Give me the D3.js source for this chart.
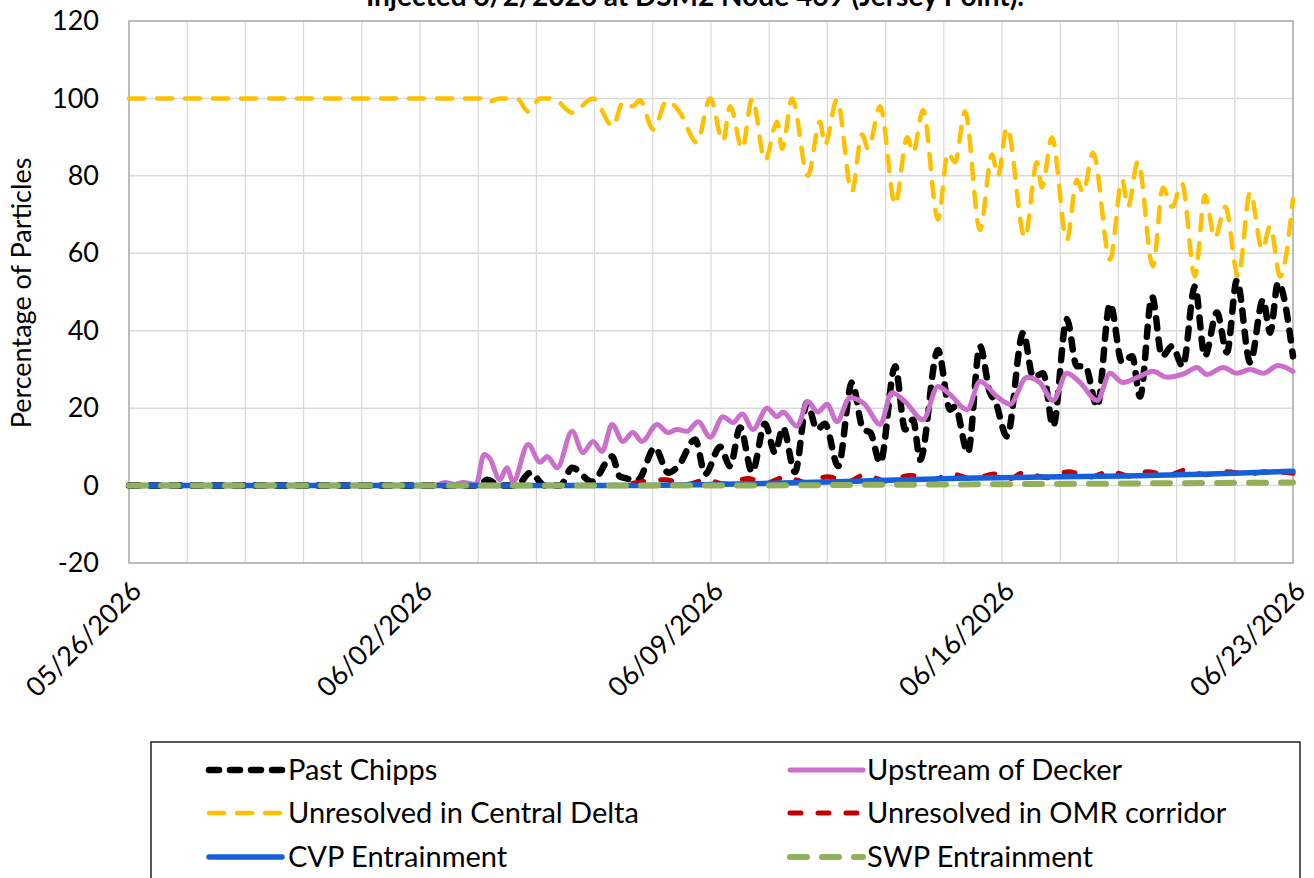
<!DOCTYPE html>
<html>
<head>
<meta charset="utf-8">
<script src="https://cdn.jsdelivr.net/npm/d3@7"></script>
<style>
  html, body { margin: 0; padding: 0; background: #ffffff; }
  svg { display: block; }
  text { font-family: Lato, "Open Sans", sans-serif; fill: #000; }
</style>
</head>
<body>
<svg id="chart" width="1314" height="878"></svg>
<script>
// ---------------- DATA ----------------
const titleText = "Injected 6/2/2026 at DSM2 Node 469 (Jersey Point).";
const yLabel = "Percentage of Particles";
const xTickDays = [0, 7, 14, 21, 28];
const xTickLabels = ["05/26/2026", "06/02/2026", "06/09/2026", "06/16/2026", "06/23/2026"];
const yTicks = [-20, 0, 20, 40, 60, 80, 100, 120];
const yTickLabels = ["-20", "0", "20", "40", "60", "80", "100", "120"];

// days since 05/26/2026 00:00 and percentage of particles
const chippsDay = [0, 8.44, 8.61, 8.92, 9.33, 9.65, 10.01, 10.37, 10.66, 11.14, 11.62, 11.81, 12.24, 12.65, 12.97, 13.21, 13.62, 13.86, 14.22, 14.46, 14.70, 14.99, 15.30, 15.54, 15.73, 16.02, 16.31, 16.55, 16.74, 17.06, 17.39, 17.66, 17.83, 18.07, 18.43, 18.67, 18.86, 19.03, 19.46, 19.75, 19.87, 20.18, 20.47, 20.71, 20.83, 21.12, 21.51, 21.75, 21.99, 22.23, 22.56, 22.80, 23.00, 23.29, 23.60, 23.89, 24.13, 24.32, 24.61, 24.85, 25.09, 25.35, 25.64, 25.88, 26.17, 26.41, 26.65, 26.97, 27.28, 27.45, 27.64, 28.00];
const chippsPct = [0, 0, 1.5, 0, 0, 3.3, 0, 0, 4.6, 1, 7.5, 2.3, 1.5, 9.8, 3.3, 5, 11.9, 3, 10, 5, 15, 3.5, 16, 8.5, 15, 3.5, 21.4, 14.5, 16, 5, 26.6, 14.5, 13.7, 5.9, 30.8, 14.5, 17, 6.7, 35, 19.6, 20.4, 8.5, 36, 24, 22, 12.7, 39.5, 28, 29, 15.3, 43, 30.8, 30.8, 20.4, 47, 31.8, 33.4, 23, 48.8, 33.4, 36, 30.8, 51.4, 33.4, 44.7, 34.4, 53, 31.8, 48, 39.5, 52.4, 33.4];

const deckerDay = [0, 7.36, 7.60, 7.84, 8.03, 8.35, 8.54, 8.68, 8.92, 9.09, 9.24, 9.60, 9.89, 10.06, 10.30, 10.66, 10.92, 11.16, 11.38, 11.62, 11.88, 12.12, 12.34, 12.70, 12.97, 13.18, 13.42, 13.69, 13.98, 14.29, 14.53, 14.75, 15.01, 15.35, 15.59, 15.73, 16.07, 16.33, 16.57, 16.79, 17.03, 17.34, 17.70, 18.07, 18.35, 18.67, 19.10, 19.46, 19.75, 20.16, 20.47, 20.88, 21.19, 21.60, 21.91, 22.23, 22.56, 22.88, 23.29, 23.60, 23.91, 24.27, 24.63, 24.97, 25.40, 25.69, 25.93, 26.32, 26.65, 26.97, 27.28, 27.64, 28.00];
const deckerPct = [0, 0, 0.8, 0.3, 0.8, 0.3, 8, 7, 1.5, 4.6, 1, 10.6, 6, 7.5, 4.6, 14, 8.5, 11.4, 8.8, 15.8, 11.4, 13.7, 11.4, 15.8, 13.7, 14.5, 14, 16.5, 12.5, 17.8, 16.3, 18.5, 14.5, 20, 17.8, 19, 15.3, 21.7, 19, 21, 16.5, 22.7, 21, 15.8, 24, 21.7, 17, 25.6, 23.5, 19.6, 26.9, 23, 21, 28, 26.6, 22, 29, 26.6, 22, 29, 26.6, 28, 29.5, 28, 29, 30.5, 28.7, 30.5, 29, 30, 29, 31, 29.5];

const centralDay = [0, 8.44, 8.61, 8.92, 9.33, 9.60, 9.89, 10.20, 10.66, 11.16, 11.64, 11.88, 12.12, 12.29, 12.61, 12.94, 13.25, 13.66, 13.98, 14.29, 14.46, 14.75, 14.99, 15.30, 15.59, 15.71, 15.95, 16.33, 16.62, 16.74, 17.03, 17.39, 17.63, 17.78, 18.07, 18.43, 18.72, 18.86, 19.10, 19.46, 19.70, 19.87, 20.11, 20.47, 20.76, 20.90, 21.12, 21.55, 21.84, 21.96, 22.20, 22.56, 22.80, 22.95, 23.19, 23.60, 23.89, 24.03, 24.27, 24.63, 24.87, 25.09, 25.33, 25.64, 25.88, 26.12, 26.37, 26.68, 26.97, 27.26, 27.45, 27.69, 28.00];
const centralPct = [100, 100, 99, 100, 100, 96.6, 100, 100, 96.3, 100, 92.8, 99, 98, 99.5, 92, 99.4, 96.4, 88.6, 100, 89, 98, 87, 100, 84, 94, 87, 100, 80, 94, 88, 99.7, 76, 90.7, 87, 98, 72.6, 90, 86, 97, 68.7, 86, 83.5, 96.6, 66, 85.5, 80, 92.5, 64, 83.5, 77, 90, 63.5, 79, 75.7, 86, 58.4, 79, 72, 83.7, 56.6, 77, 72, 78, 54, 75, 64, 72, 54, 75.7, 61, 67, 54, 74];

const omrDay = [0, 11.5, 12.9, 13.4, 13.9, 14.3, 14.9, 15.3, 15.8, 16.3, 16.8, 17.3, 17.7, 18.2, 18.8, 19.3, 19.8, 20.3, 20.8, 21.2, 21.5, 22.1, 22.6, 23.1, 23.6, 24.1, 24.5, 25.0, 25.4, 25.9, 26.4, 26.9, 27.4, 28.0];
const omrPct = [0, 0, 1.5, 0.3, 1.5, 0.4, 1.8, 0.6, 2.2, 0.8, 2.3, 1, 2.8, 1.2, 2.6, 1.4, 3, 1.6, 3, 1.8, 3.3, 2, 3.6, 2.2, 3.6, 2.4, 3.6, 2.6, 4, 2.8, 3.6, 3, 3.6, 3.2];

const cvpDay = [0, 12, 14, 16, 18, 20, 22, 24, 26, 28];
const cvpPct = [0, 0, 0.3, 0.7, 1.3, 1.9, 2.2, 2.5, 3.0, 3.7];

const swpDay = [0, 14, 18, 22, 25, 28];
const swpPct = [0, 0, 0.2, 0.4, 0.6, 0.8];

const seriesNames = ["Past Chipps", "Upstream of Decker", "Unresolved in Central Delta", "Unresolved in OMR corridor", "CVP Entrainment", "SWP Entrainment"];

// ---------------- STYLES ----------------
const styles = [
  { color: "#000000", width: 6.5, dash: "10,11", cap: "round" },
  { color: "#CC6FCC", width: 5,   dash: null,    cap: "round" },
  { color: "#FFC000", width: 4.5, dash: "15,13", cap: "round" },
  { color: "#C00000", width: 5,   dash: "11,17", cap: "round" },
  { color: "#1560D8", width: 5.5, dash: null,    cap: "round" },
  { color: "#92B05A", width: 6,   dash: "17,15", cap: "round" }
];

const seriesData = [
  [chippsDay, chippsPct],
  [deckerDay, deckerPct],
  [centralDay, centralPct],
  [omrDay, omrPct],
  [cvpDay, cvpPct],
  [swpDay, swpPct]
];

// ---------------- CHART ----------------
const svg = d3.select("#chart");
const t0 = Date.UTC(2026, 4, 26);
const dayToDate = d => new Date(t0 + d * 864e5);

const plot = { left: 129, right: 1293, top: 21, bottom: 563 };
const x = d3.scaleUtc().domain([dayToDate(0), dayToDate(28)]).range([plot.left, plot.right]);
const y = d3.scaleLinear().domain([-20, 120]).range([plot.bottom, plot.top]);

svg.append("rect").attr("width", 1314).attr("height", 878).attr("fill", "#fff");

// title (clipped by the top edge, as in the reference)
svg.append("text").attr("x", 695).attr("y", 6).attr("text-anchor", "middle")
  .style("font-size", "28px").style("font-weight", "bold").text(titleText);

// gridlines
const grid = svg.append("g");
d3.range(0, 28.001, 1.4).forEach(d => {
  grid.append("line").attr("x1", x(dayToDate(d))).attr("x2", x(dayToDate(d)))
    .attr("y1", plot.top).attr("y2", plot.bottom)
    .attr("stroke", "#d9d9d9").attr("stroke-width", 1.2);
});
yTicks.forEach(v => {
  grid.append("line").attr("x1", plot.left).attr("x2", plot.right)
    .attr("y1", y(v)).attr("y2", y(v))
    .attr("stroke", "#d9d9d9").attr("stroke-width", 1.5);
});
svg.append("rect").attr("x", plot.left).attr("y", plot.top)
  .attr("width", plot.right - plot.left).attr("height", plot.bottom - plot.top)
  .attr("fill", "none").attr("stroke", "#a6a6a6").attr("stroke-width", 1.3);

// y axis
const yAxis = d3.axisLeft(y).tickValues(yTicks).tickFormat((d, i) => yTickLabels[i]).tickSize(0).tickPadding(30);
const ya = svg.append("g").attr("transform", `translate(${plot.left},0)`).call(yAxis);
ya.select(".domain").remove();
ya.selectAll("text").style("font-size", "27px").style("font-family", "Lato, sans-serif").attr("fill", "#000");

svg.append("text").attr("transform", `translate(31,293) rotate(-90)`).attr("text-anchor", "middle")
  .style("font-size", "27px").text(yLabel);

// x axis
const xAxis = d3.axisBottom(x).tickValues(xTickDays.map(dayToDate))
  .tickFormat((d, i) => xTickLabels[i]).tickSize(0);
const xa = svg.append("g").attr("transform", `translate(0,${plot.bottom})`).call(xAxis);
xa.select(".domain").remove();
xa.selectAll("text").style("font-size", "27px").style("font-family", "Lato, sans-serif").attr("fill", "#000")
  .attr("text-anchor", "end").attr("dy", "0.35em").attr("dx", 0)
  .attr("transform", "translate(7,23) rotate(-45)").attr("y", 0).attr("x", 0);

// lines
const lineGen = d3.line().x(p => x(dayToDate(p[0]))).y(p => y(p[1])).curve(d3.curveMonotoneX);
const lines = svg.append("g");
seriesData.forEach(([days, vals], i) => {
  const pts = days.map((d, j) => [d, vals[j]]);
  const st = styles[i];
  lines.append("path").datum(pts).attr("d", lineGen)
    .attr("fill", "none").attr("stroke", st.color).attr("stroke-width", st.width)
    .attr("stroke-linecap", st.cap).attr("stroke-linejoin", "round")
    .attr("stroke-dasharray", st.dash);
});

// legend
const lg = svg.append("g");
lg.append("rect").attr("x", 151).attr("y", 742).attr("width", 1149).attr("height", 200)
  .attr("fill", "#fff").attr("stroke", "#000").attr("stroke-width", 1.3);
const legendPos = [
  { sx: 209, ex: 282, tx: 288, y: 770 },
  { sx: 790, ex: 863, tx: 867, y: 770 },
  { sx: 209, ex: 282, tx: 288, y: 813 },
  { sx: 790, ex: 863, tx: 867, y: 813 },
  { sx: 209, ex: 282, tx: 288, y: 857 },
  { sx: 790, ex: 863, tx: 867, y: 857 }
];
seriesNames.forEach((name, i) => {
  const p = legendPos[i], st = styles[i];
  lg.append("line").attr("x1", p.sx).attr("x2", p.ex).attr("y1", p.y).attr("y2", p.y)
    .attr("stroke", st.color).attr("stroke-width", st.width)
    .attr("stroke-linecap", st.cap).attr("stroke-dasharray", st.dash);
  lg.append("text").attr("x", p.tx).attr("y", p.y).attr("dy", "0.36em")
    .style("font-size", "29px").text(name);
});
</script>
</body>
</html>
